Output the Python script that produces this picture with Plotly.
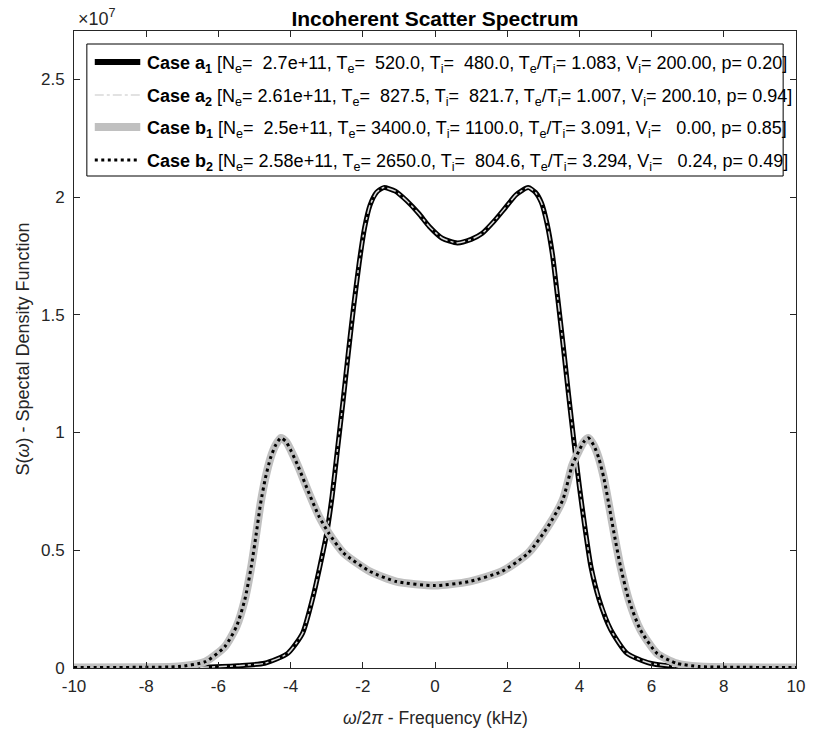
import plotly.graph_objects as go

# ---------------- data ----------------
# Case a (a1 and a2 overlap), frequency in kHz, S in units of 1e7
a_x = [-10, -8, -6.5, -5.91, -5.45, -4.72, -4.08, -3.67, -3.40, -3.19, -3.00, -2.85,
       -2.70, -2.55, -2.40, -2.25, -2.10, -1.95, -1.80, -1.62, -1.42, -1.10, -0.79,
       -0.45, -0.16, 0.20, 0.62, 1.00, 1.30, 1.65, 1.95, 2.25, 2.58, 2.78, 2.95,
       3.10, 3.25, 3.40, 3.55, 3.70, 3.85, 4.00, 4.15, 4.32, 4.55, 4.87, 5.32,
       5.96, 6.88, 8, 10]
a1_s = [0.0005, 0.001, 0.003, 0.006, 0.010, 0.020, 0.062, 0.147, 0.289, 0.430, 0.572, 0.73,
        0.93, 1.13, 1.34, 1.54, 1.72, 1.87, 1.965, 2.02, 2.04, 2.025, 1.985,
        1.93, 1.875, 1.825, 1.805, 1.82, 1.845, 1.90, 1.955, 2.01, 2.04, 2.02, 1.975,
        1.89, 1.76, 1.57, 1.37, 1.16, 0.96, 0.77, 0.60, 0.43, 0.289, 0.162, 0.062,
        0.020, 0.004, 0.001, 0.0005]
a2_s = [0.0005, 0.001, 0.003, 0.006, 0.010, 0.020, 0.062, 0.147, 0.289, 0.430, 0.572, 0.73,
        0.93, 1.13, 1.34, 1.54, 1.72, 1.87, 1.965, 2.02, 2.04, 2.025, 1.985,
        1.93, 1.875, 1.825, 1.805, 1.82, 1.845, 1.90, 1.955, 2.01, 2.04, 2.02, 1.975,
        1.89, 1.76, 1.57, 1.37, 1.16, 0.96, 0.77, 0.60, 0.43, 0.289, 0.162, 0.062,
        0.020, 0.004, 0.001, 0.0005]

# Case b (b1 and b2 overlap)
b_x = [-10, -8.1, -7.10, -6.36, -5.82, -5.50, -5.27, -5.09, -4.95, -4.83, -4.70, -4.56,
       -4.42, -4.27, -4.12, -3.98, -3.80, -3.53, -3.21, -2.94, -2.53, -1.80, -1.07, 0.0,
       0.94, 1.85, 2.58, 3.13, 3.54, 3.80, 3.98, 4.12, 4.25, 4.40, 4.54, 4.68, 4.81,
       4.96, 5.14, 5.37, 5.69, 6.15, 6.69, 7.33, 8.5, 10]
b1_s = [0.002, 0.003, 0.006, 0.027, 0.091, 0.176, 0.289, 0.430, 0.572, 0.70, 0.805, 0.89,
        0.945, 0.977, 0.96, 0.92, 0.86, 0.757, 0.643, 0.572, 0.488, 0.410, 0.367, 0.350,
        0.367, 0.410, 0.488, 0.601, 0.714, 0.86, 0.92, 0.96, 0.977, 0.945, 0.89, 0.805, 0.70,
        0.572, 0.430, 0.289, 0.162, 0.062, 0.020, 0.006, 0.003, 0.002]
b2_s = [0.002, 0.003, 0.006, 0.027, 0.091, 0.176, 0.289, 0.430, 0.572, 0.70, 0.805, 0.89,
        0.945, 0.977, 0.96, 0.92, 0.86, 0.757, 0.643, 0.572, 0.488, 0.410, 0.367, 0.350,
        0.367, 0.410, 0.488, 0.601, 0.714, 0.86, 0.92, 0.96, 0.977, 0.945, 0.89, 0.805, 0.70,
        0.572, 0.430, 0.289, 0.162, 0.062, 0.020, 0.006, 0.003, 0.002]

SCALE = 1e7
x_ticks = [-10, -8, -6, -4, -2, 0, 2, 4, 6, 8, 10]
x_tick_labels = ["-10", "-8", "-6", "-4", "-2", "0", "2", "4", "6", "8", "10"]
y_ticks = [0, 0.5, 1, 1.5, 2, 2.5]
y_tick_labels = ["0", "0.5", "1", "1.5", "2", "2.5"]

NB = "\u00a0"
legend_labels = [
    f"<b>Case a<sub>1</sub></b> [N<sub>e</sub>={NB}{NB}2.7e+11, T<sub>e</sub>={NB}{NB}520.0, T<sub>i</sub>={NB}{NB}480.0, T<sub>e</sub>/T<sub>i</sub>= 1.083, V<sub>i</sub>= 200.00, p= 0.20]",
    f"<b>Case a<sub>2</sub></b> [N<sub>e</sub>= 2.61e+11, T<sub>e</sub>={NB}{NB}827.5, T<sub>i</sub>={NB}{NB}821.7, T<sub>e</sub>/T<sub>i</sub>= 1.007, V<sub>i</sub>= 200.10, p= 0.94]",
    f"<b>Case b<sub>1</sub></b> [N<sub>e</sub>={NB}{NB}2.5e+11, T<sub>e</sub>= 3400.0, T<sub>i</sub>= 1100.0, T<sub>e</sub>/T<sub>i</sub>= 3.091, V<sub>i</sub>={NB}{NB}{NB}0.00, p= 0.85]",
    f"<b>Case b<sub>2</sub></b> [N<sub>e</sub>= 2.58e+11, T<sub>e</sub>= 2650.0, T<sub>i</sub>={NB}{NB}804.6, T<sub>e</sub>/T<sub>i</sub>= 3.294, V<sub>i</sub>={NB}{NB}{NB}0.24, p= 0.49]",
]

# ---------------- figure ----------------
W, H = 817, 733
L, R, T, B = 74, 13, 31, 65
PW, PH = W - L - R, H - T - B
FONT = "Liberation Sans, Arial, Helvetica, sans-serif"
AX = "#262626"

def px(xp):
    return (xp - L) / PW

def py(yp):
    return (H - B - yp) / PH

styles = [
    dict(color="#000000", width=5, dash="solid"),
    dict(color="#d9d9d9", width=1.5, dash="dashdot"),
    dict(color="#c0c0c0", width=8, dash="solid"),
    dict(color="#000000", width=3, dash="3px,3.5px"),
]
legend_widths = [6, 1.5, 8, 3]
series = [(a_x, a1_s), (a_x, a2_s), (b_x, b1_s), (b_x, b2_s)]

fig = go.Figure()
for (xs, ss), st in zip(series, styles):
    fig.add_trace(go.Scatter(
        x=xs, y=[v * SCALE for v in ss], mode="lines",
        line=dict(color=st["color"], width=st["width"], dash=st["dash"],
                  shape="spline", smoothing=0.6),
        showlegend=False, hoverinfo="skip"))

axis_common = dict(showline=True, linecolor=AX, linewidth=1, mirror="ticks",
                   ticks="inside", ticklen=6, tickcolor=AX, tickwidth=1,
                   showgrid=False, zeroline=False,
                   tickfont=dict(family=FONT, size=17, color=AX))

fig.update_layout(
    width=W, height=H, margin=dict(l=L, r=R, t=T, b=B, pad=0),
    paper_bgcolor="white", plot_bgcolor="white",
    font=dict(family=FONT, color=AX),
    xaxis=dict(range=[-10, 10], tickvals=x_ticks, ticktext=x_tick_labels,
               ticklabelstandoff=3, **axis_common),
    yaxis=dict(range=[0, 2.705e7], tickvals=[v * SCALE for v in y_ticks],
               ticktext=y_tick_labels, ticklabelstandoff=5, **axis_common),
    title=dict(text="<b>Incoherent Scatter Spectrum</b>", x=px(439), xref="paper",
               xanchor="center", y=1 - 19 / H, yanchor="middle",
               font=dict(family=FONT, size=21, color="#000000")),
)

anns = []
# exponent label
anns.append(dict(text="\u00d710<sup>7</sup>", xref="paper", yref="paper",
                 x=px(76), y=py(18), xanchor="left", yanchor="middle",
                 showarrow=False, font=dict(family=FONT, size=18, color=AX)))
# axis titles
anns.append(dict(text="<i>\u03c9</i>/2<i>\u03c0</i> - Frequency (kHz)", xref="paper", yref="paper",
                 x=px(439), y=py(718), xanchor="center", yanchor="middle",
                 showarrow=False, font=dict(family=FONT, size=17.5, color=AX)))
anns.append(dict(text="S(<i>\u03c9</i>) - Spectal Density Function", xref="paper", yref="paper",
                 x=px(22), y=py(349), xanchor="center", yanchor="middle", textangle=-90,
                 showarrow=False, font=dict(family=FONT, size=18, color=AX)))

shapes = []
# legend box
shapes.append(dict(type="rect", xref="paper", yref="paper",
                   x0=px(87), x1=px(791), y0=py(176), y1=py(44),
                   fillcolor="white", line=dict(color="#000000", width=1), layer="above"))
row_y = [62, 95, 127, 160]
for st, lw, lab, ry in zip(styles, legend_widths, legend_labels, row_y):
    shapes.append(dict(type="line", xref="paper", yref="paper",
                       x0=px(95), x1=px(141), y0=py(ry), y1=py(ry),
                       line=dict(color=st["color"], width=lw, dash=st["dash"]),
                       layer="above"))
    anns.append(dict(text=lab, xref="paper", yref="paper", x=px(146), y=py(ry + 2),
                     xanchor="left", yanchor="middle", showarrow=False,
                     font=dict(family=FONT, size=18, color="#000000")))

fig.update_layout(annotations=anns, shapes=shapes)
fig.write_html("out.html")
